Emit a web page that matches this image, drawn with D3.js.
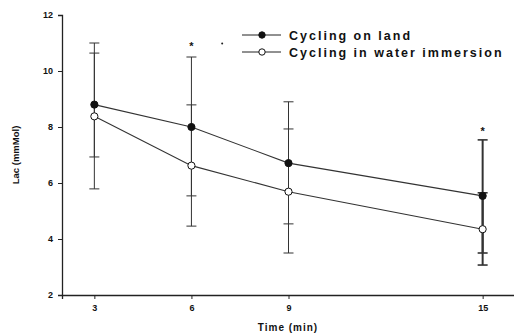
<!DOCTYPE html>
<html>
<head>
<meta charset="utf-8">
<script src="https://cdn.jsdelivr.net/npm/d3@7"></script>
<style>
  body { margin: 0; background: #fff; }
  text { font-family: Arial, "Liberation Sans", sans-serif; font-weight: bold; fill: #111; }
</style>
</head>
<body>
<div id="chart"></div>
<script>
const width = 514;
const height = 336;

// data
const times = [3, 6, 9, 15];
const landMean = [8.8, 8.0, 6.71, 5.54];
const landLow = [6.93, 5.54, 4.54, 3.5];
const landHigh = [11.0, 10.5, 8.9, 7.54];
const waterMean = [8.38, 6.62, 5.69, 4.35];
const waterLow = [5.79, 4.46, 3.5, 3.07];
const waterHigh = [10.64, 8.79, 7.93, 5.65];
const yTicks = [2, 4, 6, 8, 10, 12];
const stars = [{ t: 6, v: 11.0 }, { t: 15, v: 7.98 }];

const svg = d3
  .select("#chart")
  .append("svg")
  .attr("width", width)
  .attr("height", height);

const x = d3.scaleLinear().domain([2, 16]).range([62, 515]);
const y = d3.scaleLinear().domain([2, 12]).range([295, 15]);

//-----axes-----//
svg
  .append("g")
  .attr("transform", "translate(62,0)")
  .call(d3.axisLeft(y).tickValues(yTicks).tickSize(4).tickPadding(5))
  .call((g) => g.selectAll("text").style("font-size", "9px"));

svg
  .append("g")
  .attr("transform", "translate(0,295)")
  .call(d3.axisBottom(x).tickValues(times).tickSize(4).tickPadding(6))
  .call((g) => g.selectAll("text").style("font-size", "9px"));

svg.selectAll(".domain").attr("stroke", "#222").attr("stroke-width", 1.3);
svg.selectAll(".tick line").attr("stroke", "#222");

svg
  .append("text")
  .attr("x", 288)
  .attr("y", 331)
  .attr("text-anchor", "middle")
  .style("font-size", "10px")
  .style("letter-spacing", "1px")
  .text("Time (min)");

svg
  .append("text")
  .attr("transform", "translate(19,155) rotate(-90)")
  .attr("text-anchor", "middle")
  .style("font-size", "9.5px")
  .text("Lac (mmMol)");

//-----error bars-----//
const bars = [];
times.forEach((t, i) => {
  bars.push({ t: t, lo: landLow[i], hi: landHigh[i] });
  bars.push({ t: t, lo: waterLow[i], hi: waterHigh[i] });
});

const eb = svg.append("g").attr("stroke", "#333");
eb.selectAll("line.v")
  .data(bars)
  .join("line")
  .attr("class", "v")
  .attr("x1", (d) => x(d.t))
  .attr("x2", (d) => x(d.t))
  .attr("y1", (d) => y(d.lo))
  .attr("y2", (d) => y(d.hi))
  .attr("stroke-width", (d) => (d.t === 15 ? 2 : 1));

const caps = bars.flatMap((d) => [{ t: d.t, v: d.lo }, { t: d.t, v: d.hi }]);
eb.selectAll("line.cap")
  .data(caps)
  .join("line")
  .attr("class", "cap")
  .attr("x1", (d) => x(d.t) - 5)
  .attr("x2", (d) => x(d.t) + 5)
  .attr("y1", (d) => y(d.v))
  .attr("y2", (d) => y(d.v))
  .attr("stroke-width", (d) => (d.t === 15 ? 1.6 : 1));

//-----lines-----//
const line = d3
  .line()
  .x((d) => x(d.t))
  .y((d) => y(d.v));

const series = [
  { name: "Cycling on land", fill: "#111", pts: times.map((t, i) => ({ t, v: landMean[i] })) },
  { name: "Cycling in water immersion", fill: "#fff", pts: times.map((t, i) => ({ t, v: waterMean[i] })) },
];

series.forEach((s) => {
  svg
    .append("path")
    .datum(s.pts)
    .attr("fill", "none")
    .attr("stroke", "#333")
    .attr("stroke-width", 1.1)
    .attr("d", line);
  svg
    .append("g")
    .selectAll("circle")
    .data(s.pts)
    .join("circle")
    .attr("cx", (d) => x(d.t))
    .attr("cy", (d) => y(d.v))
    .attr("r", 3.6)
    .attr("fill", s.fill)
    .attr("stroke", "#111")
    .attr("stroke-width", 1);
});

//-----significance marks-----//
svg
  .append("g")
  .selectAll("text")
  .data(stars)
  .join("text")
  .attr("x", (d) => x(d.t))
  .attr("y", (d) => y(d.v) + 7)
  .attr("text-anchor", "middle")
  .style("font-size", "11px")
  .text("*");

svg
  .append("circle")
  .attr("cx", x(6.95))
  .attr("cy", y(11.0) + 0.5)
  .attr("r", 1)
  .attr("fill", "#222");

//-----legend-----//
const legend = svg.append("g");
series.forEach((s, i) => {
  const ly = 35 + i * 17;
  legend
    .append("line")
    .attr("x1", 242)
    .attr("x2", 281)
    .attr("y1", ly)
    .attr("y2", ly)
    .attr("stroke", "#222");
  legend
    .append("circle")
    .attr("cx", 262)
    .attr("cy", ly)
    .attr("r", 3.2)
    .attr("fill", s.fill)
    .attr("stroke", "#111");
  legend
    .append("text")
    .attr("x", 289)
    .attr("y", ly + 4.5)
    .style("font-size", "12.5px")
    .style("letter-spacing", "2px")
    .text(s.name);
});
</script>
</body>
</html>
